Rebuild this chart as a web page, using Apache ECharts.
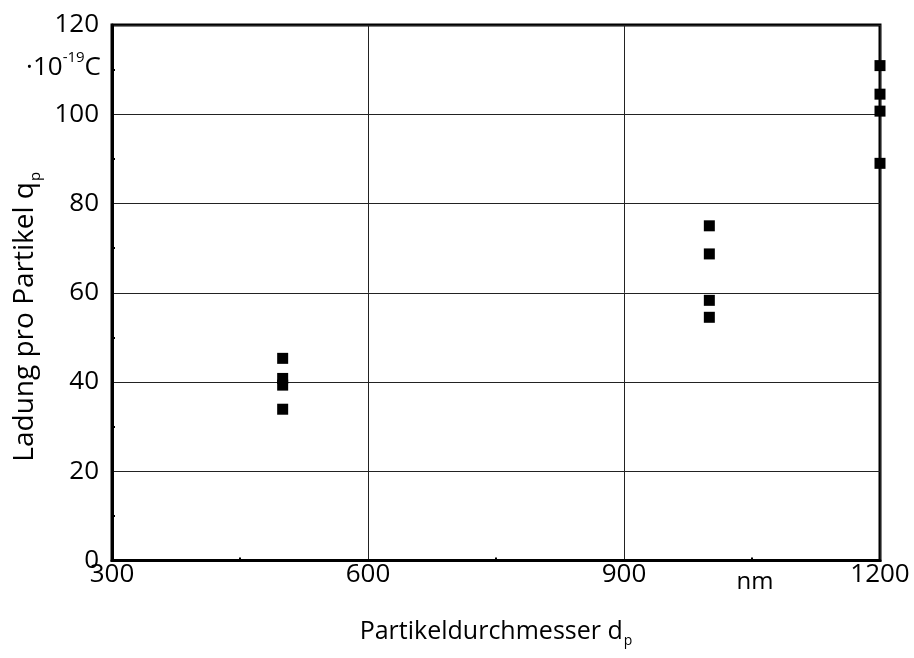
<!DOCTYPE html>
<html>
<head>
<meta charset="utf-8">
<title>Ladung pro Partikel</title>
<script src="https://cdn.jsdelivr.net/npm/echarts@6/dist/echarts.min.js"></script>
<style>
  html, body { margin: 0; padding: 0; background: #fff; }
  #chart { width: 914px; height: 658px; }
</style>
</head>
<body>
<div id="chart"></div>
<script>
// Particle diameters (nm) and the measured charges per particle (·10^-19 C)
const diameters = [500, 1000, 1200];
const charges500 = [45.3, 40.8, 39.3, 33.9];
const charges1000 = [75.0, 68.7, 58.3, 54.5];
const charges1200 = [110.9, 104.5, 100.7, 89.0];

// Axis ranges and ticks
const xTicks = [300, 600, 900, 1200];
const yTicks = [0, 20, 40, 60, 80, 100, 120];
const xUnit = 'nm';
const xUnitAt = 1050;
const yUnitAt = 110;

const chargeSets = [charges500, charges1000, charges1200];
const points = [];
diameters.forEach(function (d, i) {
  chargeSets[i].forEach(function (q) { points.push([d, q]); });
});

const FONT = '"Open Sans", "Liberation Sans", sans-serif';
const chart = echarts.init(document.getElementById('chart'), null, { renderer: 'canvas' });

const option = {
  animation: false,
  backgroundColor: '#fff',
  grid: {
    left: 112, right: 34, top: 25, bottom: 97.5,
    show: true, borderColor: '#000', borderWidth: 3, backgroundColor: 'transparent'
  },
  xAxis: {
    type: 'value',
    min: xTicks[0], max: xTicks[xTicks.length - 1],
    interval: xTicks[1] - xTicks[0],
    name: '{m|Partikeldurchmesser d}{s|p}',
    nameLocation: 'middle',
    nameGap: 52,
    nameTextStyle: {
      rich: {
        m: { fontFamily: FONT, fontSize: 25, color: '#000', lineHeight: 32, verticalAlign: 'bottom' },
        s: { fontFamily: FONT, fontSize: 14, color: '#000', lineHeight: 32, verticalAlign: 'bottom', padding: [0, 0, -4, 1] }
      }
    },
    axisLine: { show: true, onZero: false, lineStyle: { color: '#000', width: 3 } },
    axisTick: { show: false, inside: true },
    minorTick: { show: true, splitNumber: 2, length: 3, lineStyle: { color: '#000', width: 2 } },
    axisLabel: {
      color: '#000', fontFamily: FONT, fontSize: 26, margin: 1,
      formatter: function (v) { return String(v); }
    },
    splitLine: { show: true, lineStyle: { color: '#222', width: 1 } }
  },
  yAxis: {
    type: 'value',
    min: yTicks[0], max: yTicks[yTicks.length - 1],
    interval: yTicks[1] - yTicks[0],
    name: '{m|Ladung pro Partikel q}{s|p}',
    nameLocation: 'middle',
    nameGap: 70,
    nameRotate: 90,
    nameTextStyle: {
      padding: [0, 48, 0, 0],
      rich: {
        m: { fontFamily: FONT, fontSize: 28, color: '#000', lineHeight: 34, verticalAlign: 'bottom' },
        s: { fontFamily: FONT, fontSize: 15, color: '#000', lineHeight: 34, verticalAlign: 'bottom', padding: [0, 0, -4, 1] }
      }
    },
    axisLine: { show: true, onZero: false, lineStyle: { color: '#000', width: 3 } },
    axisTick: { show: false, inside: true },
    minorTick: { show: true, splitNumber: 2, length: 3, lineStyle: { color: '#000', width: 2 } },
    axisLabel: { color: '#000', fontFamily: FONT, fontSize: 26, margin: 13 },
    splitLine: { show: true, lineStyle: { color: '#222', width: 1 } }
  },
  series: [{
    type: 'scatter',
    symbol: 'rect',
    symbolSize: 11,
    itemStyle: { color: '#000', opacity: 1 },
    data: points,
    z: 5
  }]
};
chart.setOption(option);

// Unit labels placed at axis positions
const nmPos = chart.convertToPixel({ gridIndex: 0 }, [xUnitAt, 0]);
const cPos = chart.convertToPixel({ gridIndex: 0 }, [xTicks[0], yUnitAt]);
chart.setOption({
  graphic: [
    {
      type: 'text',
      x: nmPos[0] + 3, y: nmPos[1] + 22,
      style: {
        text: xUnit, fontFamily: FONT, fontSize: 24, fill: '#000',
        align: 'center', verticalAlign: 'middle'
      }
    },
    {
      type: 'text',
      x: cPos[0] - 11, y: cPos[1] - 4,
      style: {
        text: '{m|·10}{u|-19}{m|C}',
        align: 'right', verticalAlign: 'middle',
        rich: {
          m: { fontFamily: FONT, fontSize: 26, fill: '#000', color: '#000', lineHeight: 30, verticalAlign: 'bottom' },
          u: { fontFamily: FONT, fontSize: 15, fill: '#000', color: '#000', lineHeight: 30, verticalAlign: 'top' }
        }
      }
    }
  ]
});
</script>
</body>
</html>
